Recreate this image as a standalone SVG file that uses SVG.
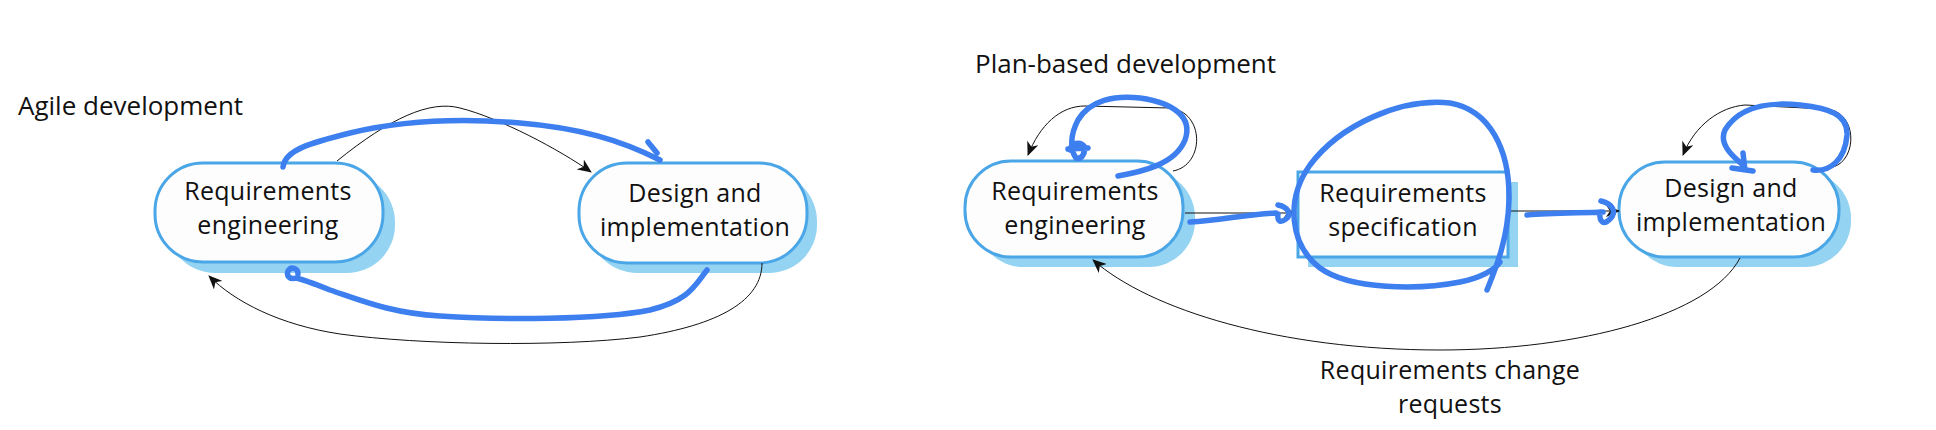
<svg xmlns="http://www.w3.org/2000/svg" width="1936" height="430" viewBox="0 0 1936 430">
<style>
text{font-family:"Open Sans","Noto Sans","Liberation Sans",sans-serif;font-size:26px;fill:#111}
.t{text-anchor:middle;font-size:25px;letter-spacing:0.3px}
.shadow{fill:#95d3f2}
.box{fill:#fdfdfd;stroke:#4aa6e6;stroke-width:3}
.wire{fill:none;stroke:#111;stroke-width:1}
.pen{fill:none;stroke:#3d7fef;stroke-width:5.5;stroke-linecap:round;stroke-linejoin:round}
</style>
<defs>
<marker id="ah" markerWidth="14" markerHeight="12" refX="13" refY="6" orient="auto" markerUnits="userSpaceOnUse">
<path d="M0,0 L14,6 L0,12 L4,6 Z" fill="#111"/>
</marker>
</defs>
<rect width="1936" height="430" fill="#fff"/>
<text x="18" y="115">Agile development</text>
<text x="975" y="73">Plan-based development</text>
<g id="agile-req">
<rect class="shadow" x="167" y="174" width="228" height="99" rx="48"/>
<rect class="box" x="155" y="163" width="228" height="99" rx="48"/>
<text class="t" x="268" y="200">Requirements</text>
<text class="t" x="268" y="234">engineering</text>
</g>
<g id="agile-design">
<rect class="shadow" x="589" y="173" width="228" height="100" rx="48"/>
<rect class="box" x="579" y="163" width="228" height="100" rx="48"/>
<text class="t" x="695" y="202">Design and</text>
<text class="t" x="695" y="236">implementation</text>
</g>
<g id="plan-req">
<rect class="shadow" x="977" y="171" width="218" height="96" rx="46"/>
<rect class="box" x="965" y="161" width="218" height="96" rx="46"/>
<text class="t" x="1075" y="200">Requirements</text>
<text class="t" x="1075" y="234">engineering</text>
</g>
<g id="plan-spec">
<rect class="shadow" x="1308" y="182" width="210" height="85"/>
<rect class="box" x="1298" y="172" width="210" height="85"/>
<text class="t" x="1403" y="202">Requirements</text>
<text class="t" x="1403" y="236">specification</text>
</g>
<g id="plan-design">
<rect class="shadow" x="1631" y="172" width="220" height="95" rx="46"/>
<rect class="box" x="1619" y="162" width="220" height="95" rx="46"/>
<text class="t" x="1731" y="197">Design and</text>
<text class="t" x="1731" y="231">implementation</text>
</g>
<g id="connectors">
<path class="wire" marker-end="url(#ah)" d="M337,161 C390,118 430,100 460,108 C500,118 560,150 591,172"/>
<path class="wire" marker-end="url(#ah)" d="M762,263 C762,300 720,325 640,337 C560,347 420,345 340,334 C280,325 235,302 209,276"/>
<path class="wire" marker-end="url(#ah)" d="M1185,213 L1296,213"/>
<path class="wire" marker-end="url(#ah)" d="M1510,211 L1619,211"/>
<path class="wire" marker-end="url(#ah)" d="M1173,171 C1205,165 1205,112 1170,108 L1085,106 C1060,106 1040,125 1028,155"/>
<path class="wire" marker-end="url(#ah)" d="M1833,167 C1858,160 1858,110 1825,109 L1745,105 C1720,107 1695,125 1683,155"/>
<path class="wire" marker-end="url(#ah)" d="M1740,258 C1710,315 1580,350 1440,350 C1280,350 1150,310 1093,260"/>
<text class="t" x="1450" y="379">Requirements change</text>
<text class="t" x="1450" y="413">requests</text>
</g>
<g id="pen-marks">
<path class="pen" d="M283,167 C285,150 310,143 350,133 C400,121 460,118 520,123 C580,128 620,140 660,160"/>
<path class="pen" d="M648,142 L657,153"/>
<path class="pen" d="M707,270 C695,285 690,300 650,310 C600,320 500,320 440,316 C390,313 360,300 330,290 C310,282 302,279 296,278 C290,280 286,276 288,271 C291,266 298,268 298,274"/>
<path class="pen" d="M1118,176 C1140,172 1175,165 1185,140 C1193,118 1175,103 1140,98 C1115,95 1090,100 1078,120 C1070,135 1070,150 1076,158 C1082,160 1086,152 1084,146 C1080,141 1071,143 1070,150 M1068,149 L1088,148"/>
<path class="pen" d="M1190,222 C1220,220 1250,214 1276,213 M1278,205 C1288,207 1292,214 1286,219 C1281,223 1277,222 1278,214"/>
<path class="pen" d="M1487,290 C1495,270 1508,240 1509,200 C1510,150 1490,110 1450,103 C1400,98 1340,125 1310,165 C1285,200 1290,245 1320,268 C1350,290 1420,290 1460,282 C1480,278 1495,270 1500,262"/>
<path class="pen" d="M1527,215 C1550,213 1580,213 1603,212 M1601,201 C1613,204 1617,212 1610,219 C1604,225 1599,223 1600,212"/>
<path class="pen" d="M1813,170 C1830,172 1845,160 1847,135 C1848,115 1830,108 1800,105 C1770,102 1740,105 1725,130 C1718,145 1735,158 1743,165 M1743,153 L1745,170 M1732,168 L1753,171"/>
</g>
</svg>
